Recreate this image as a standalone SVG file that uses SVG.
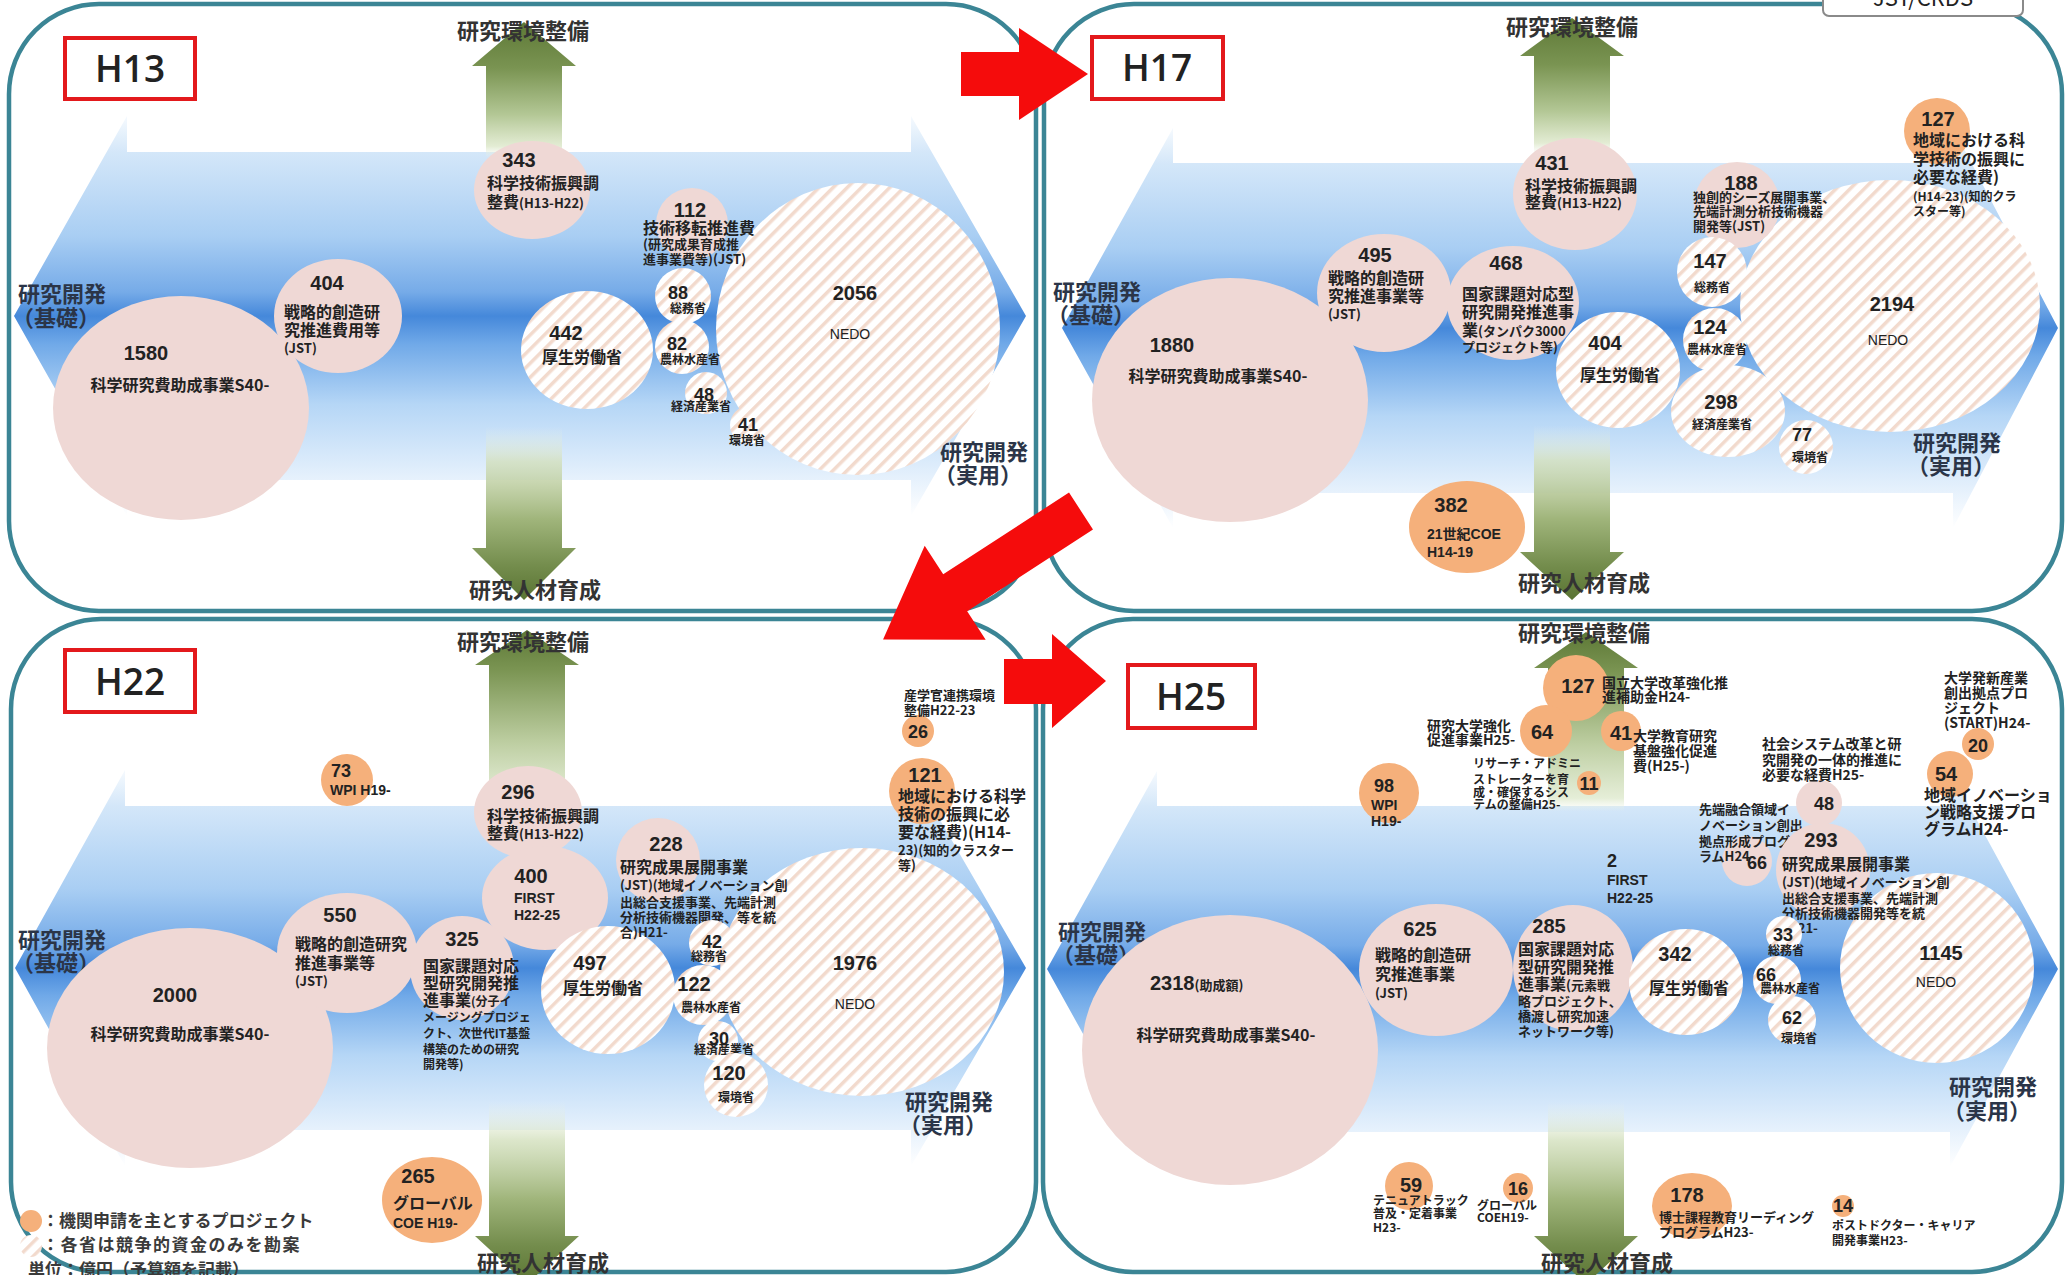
<svg xmlns="http://www.w3.org/2000/svg" width="2072" height="1275" viewBox="0 0 2072 1275">
<defs>
<linearGradient id="gBlue" x1="0" y1="0" x2="0" y2="1">
<stop offset="0" stop-color="#f6fafe"/>
<stop offset="0.09" stop-color="#d4e7f9"/>
<stop offset="0.3" stop-color="#a9cef3"/>
<stop offset="0.44" stop-color="#76abe8"/>
<stop offset="0.5" stop-color="#4588da"/>
<stop offset="0.57" stop-color="#70a9e8"/>
<stop offset="0.72" stop-color="#b5d6f6"/>
<stop offset="0.9" stop-color="#e4f0fc"/>
<stop offset="1" stop-color="#ffffff"/>
</linearGradient>
<linearGradient id="gGreenA" x1="0" y1="0" x2="0" y2="1">
<stop offset="0" stop-color="#5d7836"/>
<stop offset="0.08" stop-color="#7a9452"/>
<stop offset="0.16" stop-color="#b3c795"/>
<stop offset="0.215" stop-color="#e0eacf" stop-opacity="0.9"/>
<stop offset="0.235" stop-color="#eef4e6" stop-opacity="0"/>
<stop offset="0.70" stop-color="#eef4e6" stop-opacity="0"/>
<stop offset="0.76" stop-color="#d3e0bd" stop-opacity="0.8"/>
<stop offset="0.86" stop-color="#a0b57b"/>
<stop offset="0.94" stop-color="#748d4d"/>
<stop offset="1" stop-color="#5a7433"/>
</linearGradient>
<linearGradient id="gGreenB" x1="0" y1="0" x2="0" y2="1">
<stop offset="0" stop-color="#5d7836"/>
<stop offset="0.06" stop-color="#7a9452"/>
<stop offset="0.17" stop-color="#bccda0"/>
<stop offset="0.255" stop-color="#e2ecd3" stop-opacity="0.9"/>
<stop offset="0.275" stop-color="#eef4e6" stop-opacity="0"/>
<stop offset="0.72" stop-color="#eef4e6" stop-opacity="0"/>
<stop offset="0.78" stop-color="#d3e0bd" stop-opacity="0.8"/>
<stop offset="0.87" stop-color="#a0b57b"/>
<stop offset="0.94" stop-color="#748d4d"/>
<stop offset="1" stop-color="#5a7433"/>
</linearGradient>
<pattern id="hatch" patternUnits="userSpaceOnUse" width="10" height="10" patternTransform="rotate(45)">
<rect width="10" height="10" fill="#ffffff"/>
<rect width="3.5" height="10" fill="#f2dacd"/>
</pattern>
</defs>
<style>
.frame{fill:#fff;stroke:#3b8595;stroke-width:4.5}
.ybox{fill:#fff;stroke:#e3191c;stroke-width:4}
.year{font-family:"Open Sans","Noto Sans","Liberation Sans",sans-serif;font-size:37px;font-weight:600;fill:#222}
.red{fill:#f50c0c}
.blue{fill:url(#gBlue)}
.grA{fill:url(#gGreenA)}
.grB{fill:url(#gGreenB)}
.pink{fill:#efd8d5}
.org{fill:#f5b07b}
.hat{fill:url(#hatch)}
text{font-family:"Noto Sans CJK JP","Liberation Sans",sans-serif;fill:#222}
.n{font-family:"Liberation Sans","Noto Sans CJK JP",sans-serif;font-weight:bold;font-size:20px}
.ns{font-family:"Liberation Sans","Noto Sans CJK JP",sans-serif;font-weight:bold;font-size:18px}
.l{font-size:16px;font-weight:bold}
.m{font-size:14px;font-weight:bold}
.s{font-size:13px;font-weight:bold}
.xs{font-size:12px;font-weight:bold}
.ax{font-size:22px;font-weight:bold;fill:#333}
.sd{font-size:22px;font-weight:bold;fill:#2b3548}
.nedo{font-family:"Liberation Sans",sans-serif;font-size:14px}
.lat{font-family:"Liberation Sans","Noto Sans CJK JP",sans-serif;font-weight:bold;font-size:14px}
.lg{font-size:17px;font-weight:bold;fill:#3a3a3a}
</style>
<rect width="2072" height="1275" fill="#fff"/>

<!-- ===== H13 ===== -->
<g id="panel-h13">
<rect class="frame" x="9" y="4" width="1027" height="607" rx="90"/>
<polygon class="blue" points="14,316 127,116 127,152 911,152 911,116 1026,316 911,516 911,480 127,480 127,516"/>
<polygon class="grA" points="524,22 576,66 562,66 562,548 576,548 524,600 472,548 486,548 486,66 472,66"/>
<text class="ax" x="523" y="39" text-anchor="middle">研究環境整備</text>
<text class="ax" x="535" y="598" text-anchor="middle">研究人材育成</text>
<text class="sd" x="18" y="302">研究開発</text>
<text class="sd" x="12" y="326">（基礎）</text>
<text class="sd" x="940" y="460">研究開発</text>
<text class="sd" x="934" y="483">（実用）</text>
<g id="h13-1580"><ellipse class="pink" cx="181" cy="408" rx="128" ry="112"/><text class="n" x="146" y="360" text-anchor="middle">1580</text><text class="l" x="180" y="391" text-anchor="middle">科学研究費助成事業S40-</text></g>
<g id="h13-404"><ellipse class="pink" cx="338" cy="316" rx="64" ry="57"/><text class="n" x="327" y="290" text-anchor="middle">404</text><text class="l" x="284" y="318">戦略的創造研</text><text class="l" x="284" y="336">究推進費用等</text><text class="s" x="284" y="353">(JST)</text></g>
<g id="h13-343"><ellipse class="pink" cx="532" cy="190" rx="58" ry="49"/><text class="n" x="519" y="167" text-anchor="middle">343</text><text class="l" x="487" y="189">科学技術振興調</text><text class="l" x="487" y="208">整費<tspan class="s" font-weight="normal">(H13-H22)</tspan></text></g>
<g id="h13-442"><ellipse class="hat" cx="587" cy="350" rx="66" ry="59"/><text class="n" x="566" y="340" text-anchor="middle">442</text><text class="l" x="542" y="363">厚生労働省</text></g>
<g id="h13-2056"><ellipse class="hat" cx="858" cy="329" rx="142" ry="146"/><text class="n" x="855" y="300" text-anchor="middle">2056</text><text class="nedo" x="850" y="339" text-anchor="middle">NEDO</text></g>
<g id="h13-112"><circle class="pink" cx="692" cy="224" r="36"/><text class="n" x="690" y="217" text-anchor="middle">112</text><text class="l" x="643" y="234">技術移転推進費</text><text class="s" x="643" y="249">(研究成果育成推</text><text class="s" x="643" y="264">進事業費等)(JST)</text></g>
<g id="h13-88"><circle class="hat" cx="683" cy="296" r="28"/><text class="ns" x="678" y="299" text-anchor="middle">88</text><text class="xs" x="688" y="313" text-anchor="middle">総務省</text></g>
<g id="h13-82"><circle class="hat" cx="682" cy="347" r="27"/><text class="ns" x="677" y="350" text-anchor="middle">82</text><text class="xs" x="690" y="364" text-anchor="middle">農林水産省</text></g>
<g id="h13-48"><circle class="hat" cx="706" cy="393" r="21"/><text class="ns" x="704" y="401" text-anchor="middle">48</text><text class="xs" x="701" y="411" text-anchor="middle">経済産業省</text></g>
<g id="h13-41"><circle class="hat" cx="749" cy="425" r="19"/><text class="ns" x="748" y="431" text-anchor="middle">41</text><text class="xs" x="747" y="445" text-anchor="middle">環境省</text></g>
<g id="h13-label"><rect class="ybox" x="65" y="38" width="130" height="61"/><text class="year" x="130" y="82" text-anchor="middle">H13</text></g>
</g>

<!-- ===== H17 ===== -->
<g id="panel-h17">
<rect class="frame" x="1044" y="4" width="1018" height="607" rx="90"/>
<polygon class="blue" points="1062,328 1173,128 1173,163 1953,163 1953,128 2058,328 1953,528 1953,493 1173,493 1173,528"/>
<polygon class="grA" points="1572,18 1624,56 1610,56 1610,552 1624,552 1572,600 1520,552 1534,552 1534,56 1520,56"/>
<text class="ax" x="1572" y="35" text-anchor="middle">研究環境整備</text>
<text class="ax" x="1584" y="591" text-anchor="middle">研究人材育成</text>
<text class="sd" x="1053" y="300">研究開発</text>
<text class="sd" x="1047" y="323">（基礎）</text>
<text class="sd" x="1913" y="451">研究開発</text>
<text class="sd" x="1907" y="474">（実用）</text>
<g id="h17-1880"><ellipse class="pink" cx="1230" cy="400" rx="138" ry="122"/><text class="n" x="1172" y="352" text-anchor="middle">1880</text><text class="l" x="1218" y="382" text-anchor="middle">科学研究費助成事業S40-</text></g>
<g id="h17-495"><ellipse class="pink" cx="1384" cy="293" rx="67" ry="59"/><text class="n" x="1375" y="262" text-anchor="middle">495</text><text class="l" x="1328" y="284">戦略的創造研</text><text class="l" x="1328" y="302">究推進事業等</text><text class="s" x="1328" y="319">(JST)</text></g>
<g id="h17-468"><ellipse class="pink" cx="1513" cy="303" rx="66" ry="57"/><text class="n" x="1506" y="270" text-anchor="middle">468</text><text class="l" x="1462" y="300">国家課題対応型</text><text class="l" x="1462" y="318">研究開発推進事</text><text class="l" x="1462" y="336">業<tspan class="s">(タンパク3000</tspan></text><text class="s" x="1462" y="352">プロジェクト等)</text></g>
<g id="h17-431"><ellipse class="pink" cx="1575" cy="194" rx="62" ry="56"/><text class="n" x="1552" y="170" text-anchor="middle">431</text><text class="l" x="1525" y="192">科学技術振興調</text><text class="l" x="1525" y="208">整費<tspan class="s" font-weight="normal">(H13-H22)</tspan></text></g>
<g id="h17-404"><ellipse class="hat" cx="1618" cy="370" rx="62" ry="58"/><text class="n" x="1605" y="350" text-anchor="middle">404</text><text class="l" x="1620" y="381" text-anchor="middle">厚生労働省</text></g>
<g id="h17-382"><ellipse class="org" cx="1467" cy="527" rx="58" ry="46"/><text class="n" x="1451" y="512" text-anchor="middle">382</text><text class="lat" x="1427" y="539">21世紀COE</text><text class="lat" x="1427" y="557" font-size="13">H14-19</text></g>
<g id="h17-2194"><ellipse class="hat" cx="1890" cy="306" rx="150" ry="126"/><text class="n" x="1892" y="311" text-anchor="middle">2194</text><text class="nedo" x="1888" y="345" text-anchor="middle">NEDO</text></g>
<g id="h17-188"><circle class="pink" cx="1737" cy="205" r="43"/><text class="n" x="1741" y="190" text-anchor="middle">188</text><text class="s" x="1693" y="202">独創的シーズ展開事業、</text><text class="s" x="1693" y="216">先端計測分析技術機器</text><text class="s" x="1693" y="231">開発等(JST)</text></g>
<g id="h17-147"><circle class="hat" cx="1712" cy="272" r="35"/><text class="n" x="1710" y="268" text-anchor="middle">147</text><text class="xs" x="1712" y="292" text-anchor="middle">総務省</text></g>
<g id="h17-124"><circle class="hat" cx="1715" cy="340" r="32"/><text class="n" x="1710" y="334" text-anchor="middle">124</text><text class="xs" x="1717" y="354" text-anchor="middle">農林水産省</text></g>
<g id="h17-298"><ellipse class="hat" cx="1728" cy="411" rx="57" ry="46"/><text class="n" x="1721" y="409" text-anchor="middle">298</text><text class="xs" x="1722" y="429" text-anchor="middle">経済産業省</text></g>
<g id="h17-77"><circle class="hat" cx="1806" cy="447" r="27"/><text class="ns" x="1802" y="441" text-anchor="middle">77</text><text class="xs" x="1810" y="462" text-anchor="middle">環境省</text></g>
<g id="h17-127"><circle class="org" cx="1937" cy="131" r="33"/><text class="n" x="1938" y="126" text-anchor="middle">127</text><text class="l" x="1913" y="146">地域における科</text><text class="l" x="1913" y="165">学技術の振興に</text><text class="l" x="1913" y="183">必要な経費)</text><text class="xs" x="1913" y="201">(H14-23)(知的クラ</text><text class="xs" x="1913" y="216">スター等)</text></g>
<g id="h17-label"><rect class="ybox" x="1092" y="37" width="131" height="62"/><text class="year" x="1157" y="81" text-anchor="middle">H17</text></g>
<g id="source"><rect x="1823" y="-12" width="200" height="28" rx="6" fill="#fff" stroke="#8a8a8a" stroke-width="2"/><text x="1923" y="6" text-anchor="middle" font-family="Liberation Sans, sans-serif" font-size="22" fill="#333">JST/CRDS</text></g>
</g>

<!-- ===== H22 ===== -->
<g id="panel-h22">
<rect class="frame" x="11" y="619" width="1025" height="653" rx="90"/>
<polygon class="blue" points="15,968 125,770 125,806 911,806 911,770 1026,968 911,1166 911,1130 125,1130 125,1166"/>
<polygon class="grB" points="527,630 579,665 565,665 565,1236 579,1236 527,1284 475,1236 489,1236 489,665 475,665"/>
<text class="ax" x="523" y="650" text-anchor="middle">研究環境整備</text>
<text class="ax" x="543" y="1271" text-anchor="middle">研究人材育成</text>
<text class="sd" x="18" y="948">研究開発</text>
<text class="sd" x="12" y="971">（基礎）</text>
<text class="sd" x="905" y="1110">研究開発</text>
<text class="sd" x="899" y="1133">（実用）</text>
<g id="h22-2000"><ellipse class="pink" cx="190" cy="1048" rx="143" ry="120"/><text class="n" x="175" y="1002" text-anchor="middle">2000</text><text class="l" x="180" y="1040" text-anchor="middle">科学研究費助成事業S40-</text></g>
<g id="h22-550"><ellipse class="pink" cx="347" cy="953" rx="70" ry="60"/><text class="n" x="340" y="922" text-anchor="middle">550</text><text class="l" x="295" y="950">戦略的創造研究</text><text class="l" x="295" y="969">推進事業等</text><text class="s" x="295" y="986">(JST)</text></g>
<g id="h22-296"><ellipse class="pink" cx="528" cy="812" rx="54" ry="46"/><text class="n" x="518" y="799" text-anchor="middle">296</text><text class="l" x="487" y="822">科学技術振興調</text><text class="l" x="487" y="839">整費<tspan class="s" font-weight="normal">(H13-H22)</tspan></text></g>
<g id="h22-400"><ellipse class="pink" cx="545" cy="898" rx="63" ry="52"/><text class="n" x="531" y="883" text-anchor="middle">400</text><text class="lat" x="514" y="903">FIRST</text><text class="lat" x="514" y="920">H22-25</text></g>
<g id="h22-325"><circle class="pink" cx="462" cy="968" r="52"/><text class="n" x="462" y="946" text-anchor="middle">325</text><text class="l" x="423" y="972">国家課題対応</text><text class="l" x="423" y="989">型研究開発推</text><text class="l" x="423" y="1006">進事業<tspan class="xs">(分子イ</tspan></text><text class="xs" x="423" y="1022">メージングプロジェ</text><text class="xs" x="423" y="1038">クト、次世代IT基盤</text><text class="xs" x="423" y="1054">構築のための研究</text><text class="xs" x="423" y="1069">開発等)</text></g>
<g id="h22-1976"><ellipse class="hat" cx="862" cy="972" rx="142" ry="124"/><text class="n" x="855" y="970" text-anchor="middle">1976</text><text class="nedo" x="855" y="1009" text-anchor="middle">NEDO</text></g>
<g id="h22-497"><ellipse class="hat" cx="608" cy="990" rx="67" ry="64"/><text class="n" x="590" y="970" text-anchor="middle">497</text><text class="l" x="603" y="994" text-anchor="middle">厚生労働省</text></g>
<g id="h22-228"><circle class="pink" cx="658" cy="860" r="42"/><text class="n" x="666" y="851" text-anchor="middle">228</text><text class="l" x="620" y="873">研究成果展開事業</text><text class="s" x="620" y="890">(JST)(地域イノベーション創</text><text class="s" x="620" y="907">出総合支援事業、先端計測</text><text class="s" x="620" y="922">分析技術機器開発、等を統</text><text class="s" x="620" y="937">合)H21-</text></g>
<g id="h22-42"><circle class="hat" cx="712" cy="943" r="23"/><text class="ns" x="712" y="948" text-anchor="middle">42</text><text class="xs" x="709" y="961" text-anchor="middle">総務省</text></g>
<g id="h22-122"><circle class="hat" cx="703" cy="995" r="30"/><text class="n" x="694" y="991" text-anchor="middle">122</text><text class="xs" x="711" y="1012" text-anchor="middle">農林水産省</text></g>
<g id="h22-30"><circle class="hat" cx="718" cy="1041" r="20"/><text class="ns" x="719" y="1045" text-anchor="middle">30</text><text class="xs" x="724" y="1054" text-anchor="middle">経済産業省</text></g>
<g id="h22-120"><circle class="hat" cx="736" cy="1085" r="32"/><text class="n" x="729" y="1080" text-anchor="middle">120</text><text class="xs" x="736" y="1102" text-anchor="middle">環境省</text></g>
<g id="h22-73"><circle class="org" cx="347" cy="780" r="26"/><text class="ns" x="341" y="777" text-anchor="middle" font-size="16">73</text><text class="lat" x="330" y="795" font-size="13">WPI H19-</text></g>
<g id="h22-265"><ellipse class="org" cx="432" cy="1200" rx="50" ry="43"/><text class="n" x="418" y="1183" text-anchor="middle">265</text><text class="l" x="393" y="1209" font-size="15">グローバル</text><text class="lat" x="393" y="1228">COE H19-</text></g>
<g id="h22-26"><circle class="org" cx="918" cy="731" r="16"/><text class="ns" x="918" y="738" text-anchor="middle" font-size="17">26</text><text class="s" x="904" y="700">産学官連携環境</text><text class="s" x="904" y="715">整備H22-23</text></g>
<g id="h22-121"><circle class="org" cx="922" cy="791" r="33"/><text class="n" x="925" y="782" text-anchor="middle">121</text><text class="l" x="898" y="802">地域における科学</text><text class="l" x="898" y="820">技術の振興に必</text><text class="l" x="898" y="838">要な経費)(H14-</text><text class="s" x="898" y="855">23)(知的クラスター</text><text class="s" x="898" y="870">等)</text></g>
<g id="legend"><circle class="org" cx="31" cy="1221" r="11"/><text class="lg" x="42" y="1227">：機関申請を主とするプロジェクト</text><circle class="hat" cx="31" cy="1246" r="11"/><text class="lg" x="42" y="1251" letter-spacing="1.5">：各省は競争的資金のみを勘案</text><text class="lg" x="28" y="1276">単位：億円（予算額を記載）</text></g>
<g id="h22-label"><rect class="ybox" x="65" y="650" width="130" height="62"/><text class="year" x="130" y="695" text-anchor="middle">H22</text></g>
</g>

<!-- ===== H25 ===== -->
<g id="panel-h25">
<rect class="frame" x="1043" y="619" width="1019" height="653" rx="90"/>
<polygon class="blue" points="1047,969 1157,771 1157,806 1950,806 1950,771 2058,969 1950,1167 1950,1132 1157,1132 1157,1167"/>
<polygon class="grB" points="1586,632 1638,668 1624,668 1624,1236 1638,1236 1586,1284 1534,1236 1548,1236 1548,668 1534,668"/>
<text class="ax" x="1584" y="641" text-anchor="middle">研究環境整備</text>
<text class="ax" x="1607" y="1271" text-anchor="middle">研究人材育成</text>
<text class="sd" x="1058" y="940">研究開発</text>
<text class="sd" x="1052" y="963">（基礎）</text>
<text class="sd" x="1949" y="1095">研究開発</text>
<text class="sd" x="1943" y="1119">（実用）</text>
<g id="h25-2318"><ellipse class="pink" cx="1230" cy="1050" rx="148" ry="135"/><text class="n" x="1150" y="990">2318<tspan class="s" font-family="Noto Sans CJK JP, sans-serif">(助成額)</tspan></text><text class="l" x="1226" y="1041" text-anchor="middle">科学研究費助成事業S40-</text></g>
<g id="h25-625"><ellipse class="pink" cx="1436" cy="970" rx="77" ry="66"/><text class="n" x="1420" y="936" text-anchor="middle">625</text><text class="l" x="1375" y="961">戦略的創造研</text><text class="l" x="1375" y="980">究推進事業</text><text class="s" x="1375" y="998">(JST)</text></g>
<g id="h25-98"><circle class="org" cx="1389" cy="793" r="30"/><text class="ns" x="1384" y="792" text-anchor="middle" font-size="16">98</text><text class="lat" x="1371" y="810">WPI</text><text class="lat" x="1371" y="826" font-size="13">H19-</text></g>
<g id="h25-285"><ellipse class="pink" cx="1573" cy="968" rx="60" ry="63"/><text class="n" x="1549" y="933" text-anchor="middle">285</text><text class="l" x="1518" y="955">国家課題対応</text><text class="l" x="1518" y="973">型研究開発推</text><text class="l" x="1518" y="990">進事業<tspan class="s">(元素戦</tspan></text><text class="s" x="1518" y="1006">略プロジェクト、</text><text class="s" x="1518" y="1021">橋渡し研究加速</text><text class="s" x="1518" y="1036">ネットワーク等)</text></g>
<g id="h25-342"><ellipse class="hat" cx="1686" cy="982" rx="57" ry="53"/><text class="n" x="1675" y="961" text-anchor="middle">342</text><text class="l" x="1689" y="994" text-anchor="middle">厚生労働省</text></g>
<g id="h25-2"><text class="ns" x="1607" y="867">2</text><text class="lat" x="1607" y="885">FIRST</text><text class="lat" x="1607" y="903">H22-25</text></g>
<g id="h25-127"><circle class="org" cx="1576" cy="688" r="33"/><text class="n" x="1578" y="693" text-anchor="middle">127</text><text class="m" x="1602" y="688">国立大学改革強化推</text><text class="m" x="1602" y="702">進補助金H24-</text></g>
<g id="h25-64"><circle class="org" cx="1546" cy="731" r="26"/><text class="n" x="1542" y="739" text-anchor="middle">64</text><text class="m" x="1427" y="731">研究大学強化</text><text class="m" x="1427" y="745">促進事業H25-</text></g>
<g id="h25-41"><circle class="org" cx="1621" cy="731" r="20"/><text class="n" x="1621" y="740" text-anchor="middle">41</text><text class="m" x="1633" y="741">大学教育研究</text><text class="m" x="1633" y="756">基盤強化促進</text><text class="m" x="1633" y="771">費(H25-)</text></g>
<g id="h25-11"><circle class="org" cx="1589" cy="783" r="12"/><text class="ns" x="1589" y="790" text-anchor="middle" font-size="17">11</text><text class="xs" x="1473" y="768">リサーチ・アドミニ</text><text class="xs" x="1473" y="784">ストレーターを育</text><text class="xs" x="1473" y="797">成・確保するシス</text><text class="xs" x="1473" y="809">テムの整備H25-</text></g>
<g id="h25-48"><circle class="pink" cx="1819" cy="803" r="23"/><text class="ns" x="1824" y="810" text-anchor="middle">48</text><text class="m" x="1762" y="749">社会システム改革と研</text><text class="m" x="1762" y="765">究開発の一体的推進に</text><text class="m" x="1762" y="780">必要な経費H25-</text></g>
<g id="h25-66a"><circle class="pink" cx="1747" cy="861" r="25"/><text class="ns" x="1757" y="869" text-anchor="middle">66</text><text class="s" x="1699" y="814">先端融合領域イ</text><text class="s" x="1699" y="830">ノベーション創出</text><text class="s" x="1699" y="846">拠点形成プログ</text><text class="s" x="1699" y="861">ラムH24-</text></g>
<g id="h25-1145"><ellipse class="hat" cx="1937" cy="968" rx="97" ry="95"/><text class="n" x="1941" y="960" text-anchor="middle">1145</text><text class="nedo" x="1936" y="987" text-anchor="middle">NEDO</text></g>
<g id="h25-293"><circle class="pink" cx="1823" cy="870" r="47"/><text class="n" x="1821" y="847" text-anchor="middle">293</text><text class="l" x="1782" y="870">研究成果展開事業</text><text class="s" x="1782" y="887">(JST)(地域イノベーション創</text><text class="s" x="1782" y="903">出総合支援事業、先端計測</text><text class="s" x="1782" y="918">分析技術機器開発等を統</text><text class="s" x="1770" y="933">合)H21-</text></g>
<g id="h25-33"><circle class="hat" cx="1784" cy="934" r="18"/><text class="ns" x="1783" y="941" text-anchor="middle">33</text><text class="xs" x="1786" y="955" text-anchor="middle">総務省</text></g>
<g id="h25-66b"><circle class="hat" cx="1777" cy="980" r="24"/><text class="ns" x="1766" y="981" text-anchor="middle">66</text><text class="xs" x="1790" y="993" text-anchor="middle">農林水産省</text></g>
<g id="h25-62"><circle class="hat" cx="1792" cy="1020" r="24"/><text class="ns" x="1792" y="1024" text-anchor="middle">62</text><text class="xs" x="1799" y="1043" text-anchor="middle">環境省</text></g>
<g id="h25-20"><circle class="org" cx="1978" cy="744" r="16"/><text class="ns" x="1978" y="752" text-anchor="middle">20</text><text class="m" x="1944" y="683">大学発新産業</text><text class="m" x="1944" y="698">創出拠点プロ</text><text class="m" x="1944" y="713">ジェクト</text><text class="m" x="1944" y="728">(START)H24-</text></g>
<g id="h25-54"><circle class="org" cx="1950" cy="774" r="23"/><text class="n" x="1946" y="781" text-anchor="middle">54</text><text class="l" x="1924" y="801" font-size="15">地域イノベーショ</text><text class="l" x="1924" y="818" font-size="15">ン戦略支援プロ</text><text class="l" x="1924" y="835" font-size="15">グラムH24-</text></g>
<g id="h25-59"><circle class="org" cx="1409" cy="1186" r="24"/><text class="n" x="1411" y="1192" text-anchor="middle">59</text><text class="xs" x="1373" y="1205">テニュアトラック</text><text class="xs" x="1373" y="1218">普及・定着事業</text><text class="xs" x="1373" y="1232">H23-</text></g>
<g id="h25-16"><circle class="org" cx="1518" cy="1188" r="15"/><text class="ns" x="1518" y="1195" text-anchor="middle">16</text><text class="xs" x="1477" y="1210">グローバル</text><text class="xs" x="1477" y="1222">COEH19-</text></g>
<g id="h25-178"><ellipse class="org" cx="1692" cy="1206" rx="40" ry="33"/><text class="n" x="1687" y="1202" text-anchor="middle">178</text><text class="s" x="1659" y="1222">博士課程教育リーディング</text><text class="s" x="1659" y="1237">プログラムH23-</text></g>
<g id="h25-14"><circle class="org" cx="1843" cy="1206" r="11"/><text class="ns" x="1843" y="1212" text-anchor="middle" font-size="16">14</text><text class="xs" x="1832" y="1230">ポストドクター・キャリア</text><text class="xs" x="1832" y="1245">開発事業H23-</text></g>
<g id="h25-label"><rect class="ybox" x="1128" y="665" width="127" height="63"/><text class="year" x="1191" y="710" text-anchor="middle">H25</text></g>
</g>

<!-- ===== connectors ===== -->
<g id="connectors">
<polygon class="red" points="961,52 1019,52 1019,28 1088,74 1019,120 1019,96 961,96"/>
<polygon class="red" transform="translate(1081,511) rotate(147)" points="0,-22 150,-22 150,-56 236,0 150,56 150,22 0,22"/>
<polygon class="red" points="1004,659 1052,659 1052,634 1106,681 1052,728 1052,704 1004,704"/>
</g>
</svg>
